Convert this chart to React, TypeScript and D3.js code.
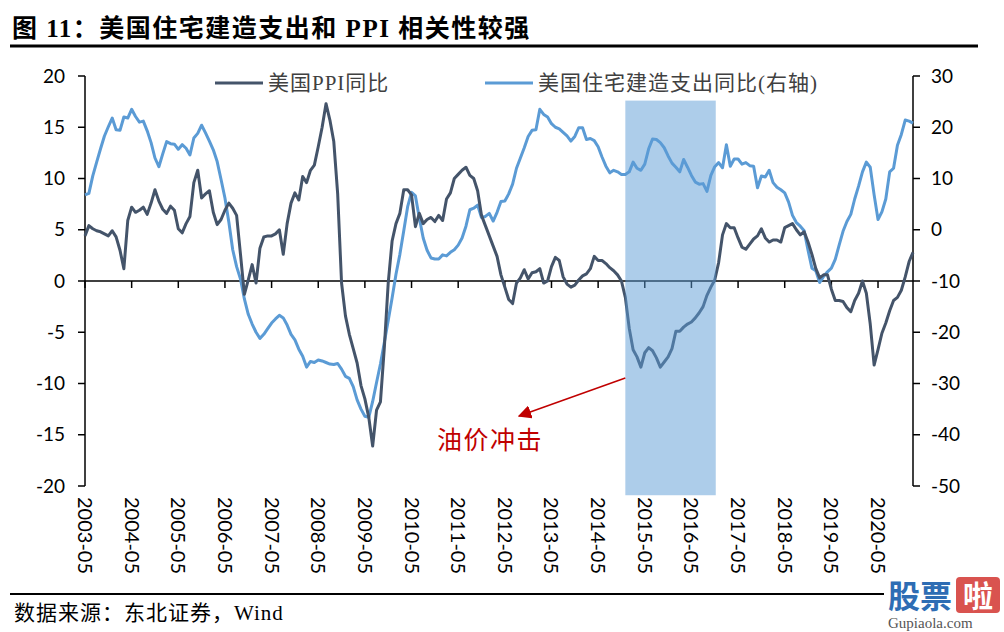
import React, { useEffect } from 'react';
import * as d3 from 'd3';

const START = new Date(2003, 4, 1);

const ppiYoY: number[] = [
  4.4, 5.4, 5.1, 4.9, 4.8, 4.6, 4.4, 4.9, 4.3, 3.0, 1.2, 5.9,
  7.2, 6.7, 6.9, 7.2, 6.5, 7.6, 8.9, 7.8, 7.0, 6.6, 7.3, 6.9,
  5.1, 4.7, 5.6, 6.3, 9.6, 10.8, 8.1, 8.5, 8.8, 6.7, 5.5, 6.0,
  6.9, 7.6, 7.1, 6.4, 2.6, -1.3, 0.1, 1.6, -0.2, 3.2, 4.3, 4.4,
  4.4, 4.6, 5.0, 2.6, 5.6, 7.6, 8.6, 7.9, 10.2, 9.6, 10.8, 11.3,
  13.1, 15.0, 17.3, 15.7, 13.6, 8.5, -0.2, -3.4, -5.2, -6.6, -8.0, -10.2,
  -11.5, -13.3, -16.1, -12.6, -11.8, -6.5, -0.2, 3.9, 5.6, 6.6, 8.9, 8.9,
  8.4, 5.3, 6.6, 5.6, 6.0, 6.2, 5.8, 6.4, 5.9, 8.0, 8.6, 10.0,
  10.4, 10.8, 11.1, 10.3, 10.0, 8.8, 6.4, 5.4, 4.4, 3.4, 2.4, 0.6,
  -0.6, -1.8, -2.2, -0.2, 0.3, 1.1, 0.2, 0.8, 0.9, 1.2, -0.2, 0.0,
  1.4, 2.3, 2.0, 0.4, -0.3, -0.6, -0.4, 0.1, 0.5, 0.7, 1.2, 2.4,
  2.0, 2.0, 1.7, 1.3, 1.0, 0.6, 0.0, -1.6, -4.6, -6.7, -7.4, -8.4,
  -7.0, -6.5, -6.8, -7.5, -8.4, -7.9, -7.4, -6.6, -4.9, -4.9, -4.5, -4.2,
  -4.0, -3.6, -3.1, -2.5, -1.4, -0.6, 0.1, 1.8, 4.5, 5.6, 5.2, 5.2,
  4.2, 3.3, 3.1, 3.6, 4.1, 4.4, 5.1, 4.2, 3.8, 4.0, 4.0, 3.8,
  5.2, 5.4, 5.6, 5.0, 4.5, 4.8, 3.8, 2.6, 1.2, 0.3, 0.6, 0.6,
  -0.8, -1.9, -1.9, -2.0, -2.6, -3.0, -1.9, -1.2, 0.0, -1.2, -4.2, -8.2,
  -6.7, -5.1, -4.1, -2.9, -1.9, -1.6, -0.9, 0.4, 1.9, 2.8,
];

const resiSpendYoY: number[] = [
  6.8, 7.1, 10.5, 13.2, 15.8, 18.3, 20.1, 21.8, 19.5, 19.4, 22.0, 21.8,
  23.5, 22.1, 21.0, 21.2, 19.3, 17.0, 14.0, 12.3, 14.8, 17.2, 16.8, 16.7,
  15.7, 16.6, 15.9, 14.6, 17.9, 18.8, 20.4, 18.9, 17.3, 15.6, 13.3, 9.8,
  6.2, 1.5, -3.9, -7.2, -9.6, -13.5, -16.5, -18.4, -20.0, -21.2, -20.4, -19.3,
  -18.2, -17.4, -16.7, -17.2, -18.6, -20.4, -21.5, -23.3, -24.7, -26.8, -25.7, -25.9,
  -25.4, -25.6, -25.9, -26.2, -26.3, -26.1, -27.2, -28.6, -29.0, -30.6, -33.2, -35.0,
  -36.4, -36.6, -33.5, -29.8, -26.2, -22.0, -17.7, -13.3, -8.7, -4.8, -0.2, 4.5,
  7.3, 6.6, 2.3, -1.6, -4.0, -5.5, -5.7, -5.7, -4.9, -5.1, -4.4, -3.9,
  -3.0, -1.6, 0.7, 3.9, 4.2, 4.8, 2.4, 2.6, 3.2, 1.7, 3.4, 5.5,
  5.6, 7.0, 8.9, 12.0, 14.0, 16.0, 18.2, 19.4, 19.5, 23.5, 22.5, 22.0,
  20.7, 20.0, 19.7, 19.0, 18.3, 17.3, 18.2, 19.9, 19.9, 17.6, 17.8, 17.4,
  16.2, 14.2, 12.4, 11.1, 11.6, 11.3, 10.8, 10.8, 11.3, 13.2, 12.0, 11.6,
  12.8, 15.8, 17.7, 17.6, 17.0, 16.0, 14.4, 13.0, 12.2, 11.3, 13.7, 12.2,
  10.6, 9.3, 8.9, 9.0, 7.5, 10.6, 12.3, 13.1, 12.1, 16.6, 12.4, 13.8,
  13.8, 12.8, 13.1, 12.5, 12.4, 8.2, 10.5, 10.3, 11.6, 9.2, 8.3, 7.8,
  7.2, 5.4, 2.8, 1.4, 0.7, -0.2, -4.0, -7.5, -8.0, -10.3, -9.1, -8.2,
  -7.5, -5.8, -3.0, -0.3, 1.6, 3.0, 6.0, 8.5, 11.3, 13.2, 12.2, 6.8,
  2.0, 3.5, 6.0, 11.3, 12.0, 16.5, 18.6, 21.4, 21.2, 20.8,
];

const xTickLabels: string[] = [
  '2003-05', '2004-05', '2005-05', '2006-05', '2007-05', '2008-05',
  '2009-05', '2010-05', '2011-05', '2012-05', '2013-05', '2014-05',
  '2015-05', '2016-05', '2017-05', '2018-05', '2019-05', '2020-05',
];
const leftTicks: number[] = [-20, -15, -10, -5, 0, 5, 10, 15, 20];
const rightTicks: number[] = [-50, -40, -30, -20, -10, 0, 10, 20, 30];
const seriesNames: string[] = ['美国PPI同比', '美国住宅建造支出同比(右轴)'];
const seriesColors: string[] = ['#44546A', '#5B9BD5'];
const bandMonths: string[] = ['2014-12', '2016-11'];
const bandValues: number[] = [17.6, -20.9];
const titleText = '图 11：美国住宅建造支出和 PPI 相关性较强';
const sourceText = '数据来源：东北证券，Wind';
const noteText = '油价冲击';

const SERIF = '"Liberation Serif", "Noto Sans CJK SC", serif';
const NUM = 'Lato, "Liberation Sans", sans-serif';

export default function App() {
  useEffect(() => {
    document.body.style.margin = '0';
  }, []);

  const fmt = d3.timeFormat('%Y-%m');
  const months = d3.range(ppiYoY.length).map((i) => fmt(d3.timeMonth.offset(START, i)));
  const x = d3.scalePoint<string>().domain(months).range([85, 913]);
  const yL = d3.scaleLinear().domain([-20, 20]).range([486, 76]);
  const yR = d3.scaleLinear().domain([-50, 30]).range([486, 76]);

  const lineL = d3.line<number>().x((_, i) => x(months[i]) as number).y((d) => yL(d));
  const lineR = d3.line<number>().x((_, i) => x(months[i]) as number).y((d) => yR(d));

  const bx0 = x(bandMonths[0]) as number;
  const bx1 = (x(bandMonths[1]) as number) + 1;
  const by0 = yL(bandValues[0]);
  const by1 = yL(bandValues[1]);

  const x0 = x.range()[0];
  const x1 = x.range()[1];
  const y0 = yL(0);

  return (
    <svg width={1004} height={632} style={{ display: 'block', background: '#fff' }}>
      {/* title */}
      <text x={12} y={37} fontFamily={SERIF} fontWeight="bold" fontSize={25} letterSpacing={1.5} fill="#000">
        {titleText}
      </text>
      <line x1={10} x2={978} y1={46} y2={46} stroke="#000" strokeWidth={3} />

      {/* left axis */}
      <line x1={x0} x2={x0} y1={yL(20)} y2={yL(-20)} stroke="#000" strokeWidth={1.5} />
      {leftTicks.map((t) => (
        <g key={'l' + t}>
          <line x1={x0 - 7} x2={x0} y1={yL(t)} y2={yL(t)} stroke="#000" strokeWidth={1.5} />
          <text x={65} y={yL(t)} dy="0.35em" textAnchor="end" fontFamily={NUM} fontSize={19} fill="#000">
            {t}
          </text>
        </g>
      ))}

      {/* right axis */}
      <line x1={x1} x2={x1} y1={yR(30)} y2={yR(-50)} stroke="#000" strokeWidth={1.5} />
      {rightTicks.map((t) => (
        <g key={'r' + t}>
          <line x1={x1} x2={x1 + 7} y1={yR(t)} y2={yR(t)} stroke="#000" strokeWidth={1.5} />
          <text x={931} y={yR(t)} dy="0.35em" textAnchor="start" fontFamily={NUM} fontSize={19} fill="#000">
            {t}
          </text>
        </g>
      ))}

      {/* x axis */}
      <line x1={x0} x2={x1} y1={y0} y2={y0} stroke="#000" strokeWidth={1.5} />
      {xTickLabels.map((lab) => {
        const xx = x(lab) as number;
        return (
          <g key={lab}>
            <line x1={xx} x2={xx} y1={y0} y2={y0 + 7} stroke="#000" strokeWidth={1.5} />
            <text
              transform={`translate(${xx},497) rotate(90)`}
              dy="0.35em"
              textAnchor="start"
              fontFamily={NUM}
              fontSize={20}
              fill="#000"
            >
              {lab}
            </text>
          </g>
        );
      })}

      {/* series */}
      <path d={lineR(resiSpendYoY) as string} fill="none" stroke={seriesColors[1]} strokeWidth={3} strokeLinejoin="round" />
      <path d={lineL(ppiYoY) as string} fill="none" stroke={seriesColors[0]} strokeWidth={3} strokeLinejoin="round" />

      {/* shaded band */}
      <rect x={bx0} y={by0} width={bx1 - bx0} height={by1 - by0} fill="#5B9BD5" fillOpacity={0.5} />

      {/* legend */}
      <line x1={215} x2={263} y1={83} y2={83} stroke={seriesColors[0]} strokeWidth={3} />
      <text x={268} y={90} fontFamily={SERIF} fontSize={21} letterSpacing={1} fill="#404040">{seriesNames[0]}</text>
      <line x1={485} x2={533} y1={83} y2={83} stroke={seriesColors[1]} strokeWidth={3} />
      <text x={538} y={90} fontFamily={SERIF} fontSize={21} letterSpacing={1} fill="#404040">{seriesNames[1]}</text>

      {/* annotation */}
      <defs>
        <marker id="arrowHead" viewBox="0 0 10 10" refX="9" refY="5" markerWidth="9" markerHeight="9" orient="auto">
          <path d="M0,0 L10,5 L0,10 z" fill="#C00000" />
        </marker>
      </defs>
      <line x1={bx0} y1={378} x2={519} y2={416} stroke="#C00000" strokeWidth={1.5} markerEnd="url(#arrowHead)" />
      <text x={437} y={449} fontFamily={SERIF} fontSize={25} letterSpacing={1.5} fill="#C00000">{noteText}</text>

      {/* footer */}
      <line x1={10} x2={978} y1={594} y2={594} stroke="#000" strokeWidth={2} />
      <text x={14} y={620} fontFamily={SERIF} fontSize={21} letterSpacing={1} fill="#000">{sourceText}</text>

      {/* watermark */}
      <g>
        <rect x={884} y={576} width={120} height={56} fill="#fff" />
        <text x={888} y={608} fontFamily={'"Noto Sans CJK SC", sans-serif'} fontWeight="bold" fontSize={32} fill="#2E6DB4">股票</text>
        <rect x={956} y={577} width={44} height={36} rx={4} fill="#D9534F" />
        <text x={978} y={607} textAnchor="middle" fontFamily={'"Noto Sans CJK SC", sans-serif'} fontWeight="bold" fontSize={30} fill="#fff">啦</text>
        <text x={888} y={628} fontFamily={SERIF} fontSize={15} fill="#555">Gupiaola.com</text>
      </g>
    </svg>
  );
}
